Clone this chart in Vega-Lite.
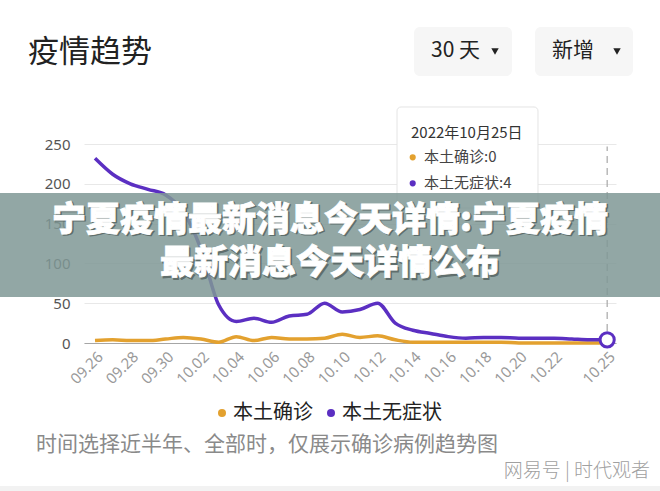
{
  "$schema": "https://vega.github.io/schema/vega-lite/v6.json",
  "autosize": {"type": "none"},
  "width": 532,
  "height": 199,
  "padding": {"left": 84, "top": 144, "right": 44, "bottom": 148},
  "background": "#ffffff",
  "config": {"view": {"stroke": null}, "font": "Noto Sans CJK SC"},
  "resolve": {"axis": {"x": "independent", "y": "independent"}},
  "data": {"values": [
    {"day": 0, "date": "09.26", "本土确诊": 3, "本土无症状": 232},
    {"day": 1, "date": "09.27", "本土确诊": 4, "本土无症状": 212},
    {"day": 2, "date": "09.28", "本土确诊": 3, "本土无症状": 200},
    {"day": 3, "date": "09.29", "本土确诊": 3, "本土无症状": 193},
    {"day": 4, "date": "09.30", "本土确诊": 5, "本土无症状": 186},
    {"day": 5, "date": "10.01", "本土确诊": 7, "本土无症状": 165},
    {"day": 6, "date": "10.02", "本土确诊": 5, "本土无症状": 118},
    {"day": 7, "date": "10.03", "本土确诊": 1, "本土无症状": 48},
    {"day": 8, "date": "10.04", "本土确诊": 8, "本土无症状": 27},
    {"day": 9, "date": "10.05", "本土确诊": 3, "本土无症状": 31},
    {"day": 10, "date": "10.06", "本土确诊": 7, "本土无症状": 26},
    {"day": 11, "date": "10.07", "本土确诊": 5, "本土无症状": 34},
    {"day": 12, "date": "10.08", "本土确诊": 5, "本土无症状": 36},
    {"day": 13, "date": "10.09", "本土确诊": 6, "本土无症状": 50},
    {"day": 14, "date": "10.10", "本土确诊": 11, "本土无症状": 39},
    {"day": 15, "date": "10.11", "本土确诊": 7, "本土无症状": 42},
    {"day": 16, "date": "10.12", "本土确诊": 9, "本土无症状": 50},
    {"day": 17, "date": "10.13", "本土确诊": 4, "本土无症状": 25},
    {"day": 18, "date": "10.14", "本土确诊": 1, "本土无症状": 16},
    {"day": 19, "date": "10.15", "本土确诊": 1, "本土无症状": 12},
    {"day": 20, "date": "10.16", "本土确诊": 1, "本土无症状": 8},
    {"day": 21, "date": "10.17", "本土确诊": 1, "本土无症状": 6},
    {"day": 22, "date": "10.18", "本土确诊": 1, "本土无症状": 7},
    {"day": 23, "date": "10.19", "本土确诊": 1, "本土无症状": 7},
    {"day": 24, "date": "10.20", "本土确诊": 0, "本土无症状": 6},
    {"day": 25, "date": "10.21", "本土确诊": 0, "本土无症状": 6},
    {"day": 26, "date": "10.22", "本土确诊": 0, "本土无症状": 6},
    {"day": 27, "date": "10.23", "本土确诊": 0, "本土无症状": 5},
    {"day": 28, "date": "10.24", "本土确诊": 0, "本土无症状": 4},
    {"day": 29, "date": "10.25", "本土确诊": 0, "本土无症状": 4}
  ]},
  "layer": [
    {
      "transform": [{"fold": ["本土确诊", "本土无症状"], "as": ["series", "value"]}],
      "mark": {"type": "line", "strokeWidth": 3.5, "interpolate": "monotone"},
      "encoding": {
        "x": {"field": "day", "type": "quantitative",
          "scale": {"domain": [-0.623, 29.5], "nice": false, "zero": false},
          "axis": {"values": [0, 2, 4, 6, 8, 10, 12, 14, 16, 18, 20, 22, 24, 26, 29],
            "labelExpr": "timeFormat(datetime(2022, 8, 26 + datum.value), '%m.%d')",
            "labelAngle": -45, "labelFontSize": 15, "labelColor": "#9a9a9a", "labelFont": "Noto Sans",
            "ticks": false, "domain": true, "domainColor": "#a6a6a6", "domainWidth": 1.2,
            "grid": false, "title": null, "labelPadding": 6, "labelOverlap": false, "labelFlush": false, "labelBound": false}},
        "y": {"field": "value", "type": "quantitative",
          "scale": {"domain": [0, 250], "nice": false},
          "axis": {"values": [0, 50, 100, 150, 200, 250], "labelFontSize": 15, "labelColor": "#555555",
            "labelFont": "Noto Sans", "domain": false, "ticks": false, "grid": true, "gridColor": "#e8e8e8",
            "labelPadding": 14, "title": null, "labelOverlap": false, "labelBound": false}},
        "color": {"field": "series", "type": "nominal",
          "scale": {"domain": ["本土确诊", "本土无症状"], "range": ["#e3a12f", "#5b2fc2"]},
          "legend": {"title": null, "orient": "none", "legendX": 128, "legendY": 259, "direction": "horizontal",
            "symbolType": "circle", "symbolSize": 64, "symbolStrokeWidth": 0,
            "labelFontSize": 20, "labelFont": "Noto Sans CJK SC", "labelColor": "#222222",
            "labelOffset": 1, "columnPadding": 8, "padding": 0,
            "encode": {"symbols": {"update": {"fill": {"scale": "color", "field": "value"}, "stroke": {"value": "transparent"}}}}}}
      }
    },
    {
      "data": {"values": [{}]},
      "mark": {"type": "rule", "color": "#a8a8a8", "strokeWidth": 1.2, "strokeDash": [7, 5]},
      "encoding": {"x": {"datum": 29, "type": "quantitative", "axis": null}, "y": {"datum": 0, "type": "quantitative", "axis": null}, "y2": {"datum": 247}}
    },
    {
      "transform": [{"fold": ["本土确诊", "本土无症状"], "as": ["series", "value"]},
        {"filter": "datum.series == '本土无症状' && datum.day == 29"}],
      "mark": {"type": "point", "filled": true, "fill": "#ffffff", "stroke": "#5b2fc2", "strokeWidth": 3, "size": 200, "opacity": 1},
      "encoding": {"x": {"field": "day", "type": "quantitative", "axis": null}, "y": {"field": "value", "type": "quantitative", "axis": null}}
    },
    {
      "data": {"values": [{}]},
      "mark": {"type": "rect", "fill": "#ffffff", "stroke": "#e4e4e4", "strokeWidth": 1, "cornerRadius": 4},
      "encoding": {"x": {"datum": 17.1, "type": "quantitative", "axis": null}, "x2": {"datum": 25.083},
        "y": {"datum": 296.5, "type": "quantitative", "axis": null}, "y2": {"datum": 169.6}}
    },
    {
      "data": {"values": [{}]},
      "mark": {"type": "text", "text": "2022年10月25日", "align": "left", "baseline": "middle", "fontSize": 15, "color": "#333333", "font": "Noto Sans CJK SC"},
      "encoding": {"x": {"datum": 17.892, "type": "quantitative", "axis": null}, "y": {"datum": 263.2, "type": "quantitative", "axis": null}}
    },
    {
      "data": {"values": [{}]},
      "mark": {"type": "point", "filled": true, "color": "#e3a12f", "size": 38, "opacity": 1},
      "encoding": {"x": {"datum": 17.989, "type": "quantitative", "axis": null}, "y": {"datum": 233.3, "type": "quantitative", "axis": null}}
    },
    {
      "data": {"values": [{}]},
      "mark": {"type": "point", "filled": true, "color": "#5b2fc2", "size": 38, "opacity": 1},
      "encoding": {"x": {"datum": 17.989, "type": "quantitative", "axis": null}, "y": {"datum": 200.6, "type": "quantitative", "axis": null}}
    },
    {
      "data": {"values": [{}]},
      "mark": {"type": "text", "text": "本土确诊:0", "align": "left", "baseline": "middle", "fontSize": 15, "color": "#444444", "font": "Noto Sans CJK SC"},
      "encoding": {"x": {"datum": 18.628, "type": "quantitative", "axis": null}, "y": {"datum": 233.3, "type": "quantitative", "axis": null}}
    },
    {
      "data": {"values": [{}]},
      "mark": {"type": "text", "text": "本土无症状:4", "align": "left", "baseline": "middle", "fontSize": 15, "color": "#444444", "font": "Noto Sans CJK SC"},
      "encoding": {"x": {"datum": 18.628, "type": "quantitative", "axis": null}, "y": {"datum": 200.6, "type": "quantitative", "axis": null}}
    },
    {
      "data": {"values": [{}]},
      "mark": {"type": "text", "text": "疫情趋势", "align": "left", "baseline": "middle", "fontSize": 31, "color": "#222222", "font": "Noto Sans CJK SC"},
      "encoding": {"x": {"datum": -3.794, "type": "quantitative", "axis": null}, "y": {"datum": 364.3, "type": "quantitative", "axis": null}}
    },
    {
      "data": {"values": [{}]},
      "mark": {"type": "rect", "fill": "#f6f6f6", "cornerRadius": 6},
      "encoding": {"x": {"datum": 18.062, "type": "quantitative", "axis": null}, "x2": {"datum": 23.611},
        "y": {"datum": 397.0, "type": "quantitative", "axis": null}, "y2": {"datum": 335.4}}
    },
    {
      "data": {"values": [{}]},
      "mark": {"type": "rect", "fill": "#f6f6f6", "cornerRadius": 6},
      "encoding": {"x": {"datum": 24.914, "type": "quantitative", "axis": null}, "x2": {"datum": 30.463},
        "y": {"datum": 397.0, "type": "quantitative", "axis": null}, "y2": {"datum": 335.4}}
    },
    {
      "data": {"values": [{}]},
      "mark": {"type": "text", "text": "30 天", "align": "left", "baseline": "middle", "fontSize": 21, "color": "#222222", "font": "Noto Sans CJK SC"},
      "encoding": {"x": {"datum": 19.025, "type": "quantitative", "axis": null}, "y": {"datum": 366.8, "type": "quantitative", "axis": null}}
    },
    {
      "data": {"values": [{}]},
      "mark": {"type": "text", "text": "新增", "align": "left", "baseline": "middle", "fontSize": 21, "color": "#222222", "font": "Noto Sans CJK SC"},
      "encoding": {"x": {"datum": 25.876, "type": "quantitative", "axis": null}, "y": {"datum": 366.8, "type": "quantitative", "axis": null}}
    },
    {
      "data": {"values": [{}]},
      "mark": {"type": "point", "shape": "triangle-down", "filled": true, "color": "#222222", "size": 55, "opacity": 1},
      "encoding": {"x": {"datum": 22.649, "type": "quantitative", "axis": null}, "y": {"datum": 366.2, "type": "quantitative", "axis": null}}
    },
    {
      "data": {"values": [{}]},
      "mark": {"type": "point", "shape": "triangle-down", "filled": true, "color": "#222222", "size": 55, "opacity": 1},
      "encoding": {"x": {"datum": 29.557, "type": "quantitative", "axis": null}, "y": {"datum": 366.2, "type": "quantitative", "axis": null}}
    },
    {
      "data": {"values": [{}]},
      "mark": {"type": "rect", "fill": "#7f9895", "opacity": 0.85},
      "encoding": {"x": {"datum": -5.7, "type": "quantitative", "axis": null}, "x2": {"datum": 32.9},
        "y": {"datum": 188.4, "type": "quantitative", "axis": null}, "y2": {"datum": 57.8}}
    },
    {
      "data": {"values": [{}]},
      "mark": {"type": "text", "text": "宁夏疫情最新消息今天详情:宁夏疫情", "align": "center", "baseline": "middle", "fontSize": 34, "fontWeight": 900, "color": "#4a5654", "opacity": 0.7, "dx": 1.5, "dy": 1.5, "stroke": "#4a5654", "strokeWidth": 1, "font": "Noto Sans CJK SC"},
      "encoding": {"x": {"datum": 13.306, "type": "quantitative", "axis": null}, "y": {"datum": 153.3, "type": "quantitative", "axis": null}}
    },
    {
      "data": {"values": [{}]},
      "mark": {"type": "text", "text": "最新消息今天详情公布", "align": "center", "baseline": "middle", "fontSize": 34, "fontWeight": 900, "color": "#4a5654", "opacity": 0.7, "dx": 1.5, "dy": 1.5, "stroke": "#4a5654", "strokeWidth": 1, "font": "Noto Sans CJK SC"},
      "encoding": {"x": {"datum": 13.306, "type": "quantitative", "axis": null}, "y": {"datum": 99.2, "type": "quantitative", "axis": null}}
    },
    {
      "data": {"values": [{}]},
      "mark": {"type": "text", "text": "宁夏疫情最新消息今天详情:宁夏疫情", "align": "center", "baseline": "middle", "fontSize": 34, "fontWeight": 900, "color": "#ffffff", "stroke": "#ffffff", "strokeWidth": 0.8, "font": "Noto Sans CJK SC"},
      "encoding": {"x": {"datum": 13.306, "type": "quantitative", "axis": null}, "y": {"datum": 153.3, "type": "quantitative", "axis": null}}
    },
    {
      "data": {"values": [{}]},
      "mark": {"type": "text", "text": "最新消息今天详情公布", "align": "center", "baseline": "middle", "fontSize": 34, "fontWeight": 900, "color": "#ffffff", "stroke": "#ffffff", "strokeWidth": 0.8, "font": "Noto Sans CJK SC"},
      "encoding": {"x": {"datum": 13.306, "type": "quantitative", "axis": null}, "y": {"datum": 99.2, "type": "quantitative", "axis": null}}
    },
    {
      "data": {"values": [{}]},
      "mark": {"type": "text", "text": "时间选择近半年、全部时，仅展示确诊病例趋势图", "align": "left", "baseline": "middle", "fontSize": 21, "color": "#8a8a8a", "font": "Noto Sans CJK SC"},
      "encoding": {"x": {"datum": -3.341, "type": "quantitative", "axis": null}, "y": {"datum": -128.1, "type": "quantitative", "axis": null}}
    },
    {
      "data": {"values": [{}]},
      "mark": {"type": "text", "text": "网易号 | 时代观者", "align": "right", "baseline": "middle", "fontSize": 19, "color": "#a0a0a0", "font": "Noto Sans CJK SC", "fontWeight": 300},
      "encoding": {"x": {"datum": 31.425, "type": "quantitative", "axis": null}, "y": {"datum": -160.8, "type": "quantitative", "axis": null}}
    },
    {
      "data": {"values": [{}]},
      "mark": {"type": "rect", "fill": "#f2f2f2"},
      "encoding": {"x": {"datum": -5.7, "type": "quantitative", "axis": null}, "x2": {"datum": 32.9},
        "y": {"datum": -179.6, "type": "quantitative", "axis": null}, "y2": {"datum": -191}}
    }
  ]
}
